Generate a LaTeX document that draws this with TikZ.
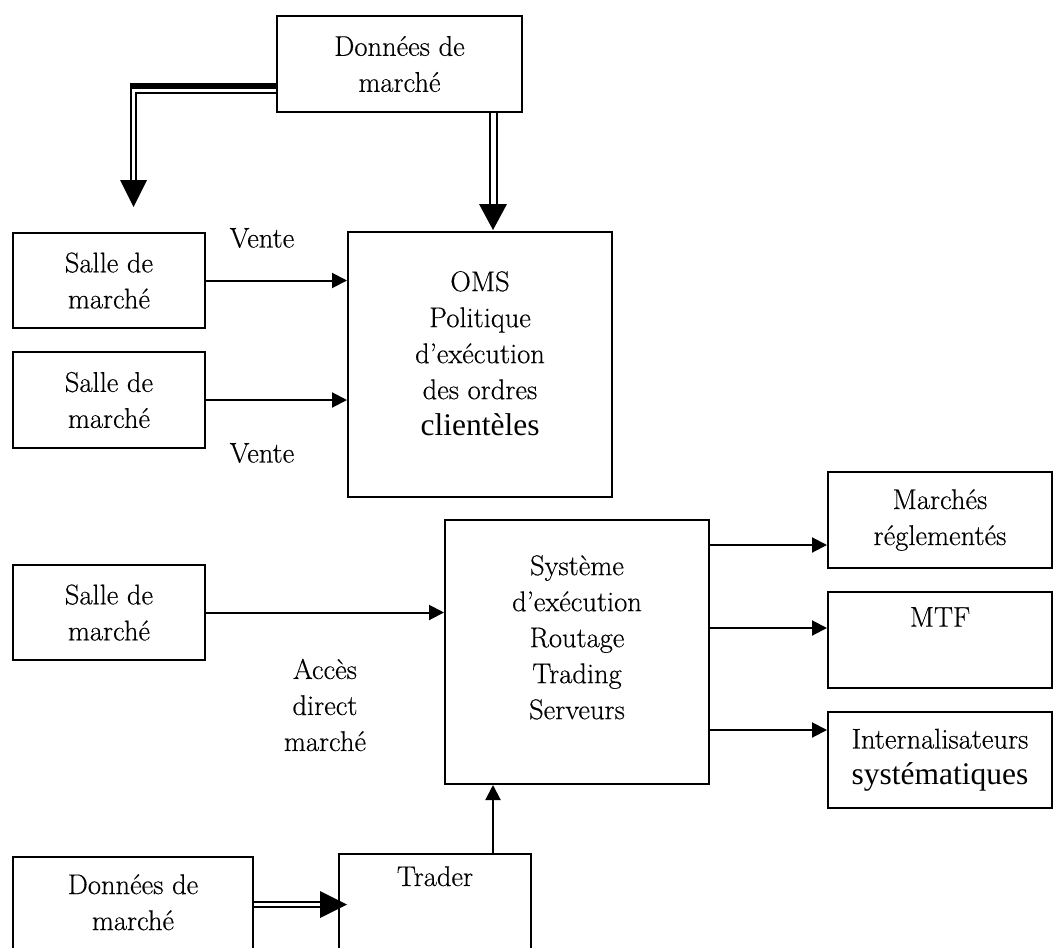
\documentclass[tikz,border=0pt]{standalone}
\usepackage{fontspec}
\setmainfont{Latin Modern Roman}[FakeBold=0.4]
\newfontfamily\timesfont{Liberation Serif}
\usetikzlibrary{arrows.meta}
\newcommand\mainsize{\fontsize{28.5}{36}\selectfont}
\newcommand\tnrsize{\timesfont\fontsize{31.5}{36}\selectfont}
\begin{document}
\begin{tikzpicture}[x=1pt,y=-1pt,
  box/.style={draw, line width=2pt, inner sep=0pt, align=center, font=\mainsize},
  txt/.style={inner sep=0pt, align=center, font=\mainsize},
  flow/.style={line width=2pt, -{Triangle[length=15pt,width=15pt]}},
  feed/.style={line width=2pt, double distance=5pt},
]
\useasboundingbox (0,0) rectangle (1056,947);

% market data source at the top
\node[box, minimum width=245pt, minimum height=96pt] (dtop) at (399.5,64) {Données de\\marché};

% trading rooms
\node[box, minimum width=192pt, minimum height=95pt] (s1) at (109,280.5) {Salle de\\marché};
\node[box, minimum width=192pt, minimum height=96pt] (s2) at (109,400) {Salle de\\marché};
\node[box, minimum width=192pt, minimum height=95pt] (s3) at (109,612.5) {Salle de\\marché};

% order management system
\node[box, minimum width=264pt, minimum height=265pt] (oms) at (480,364.5) {};
\node[txt, anchor=north] (omst) at ([yshift=-40pt]oms.north)
  {OMS\\Politique\\d’exécution\\des ordres\\{\tnrsize clientèles}};

% execution system
\node[box, minimum width=264pt, minimum height=264pt] (sys) at (577,652) {};
\node[txt, anchor=north] (syst) at ([yshift=-36pt]sys.north)
  {Système\\d’exécution\\Routage\\Trading\\Serveurs};

% execution venues
\node[box, minimum width=224pt, minimum height=96pt] (mr) at (940,520) {Marchés\\réglementés};
\node[box, minimum width=224pt, minimum height=96pt] (mtf) at (940,640) {};
\node[txt, anchor=north] (mtft) at ([yshift=-16pt]mtf.north) {MTF};
\node[box, minimum width=224pt, minimum height=96pt] (int) at (940,760)
  {Internalisateurs\\{\tnrsize systématiques}};

% bottom row, running off the lower edge
\node[box, minimum width=240pt, minimum height=123pt] (dbot) at (133,918.5) {};
\node[txt, anchor=north] (dbott) at ([yshift=-18pt]dbot.north) {Données de\\marché};
\node[box, minimum width=192pt, minimum height=126pt] (trader) at (435,917) {};
\node[txt, anchor=north] (tradert) at ([yshift=-13pt]trader.north) {Trader};

% free labels
\node[txt] (v1) at (262,238) {Vente};
\node[txt] (v2) at (262,453) {Vente};
\node[txt] (adm) at (325,705) {Accès\\direct\\marché};

% market data feeds (double lines)
\coordinate (fk) at (133.5,207);
\draw[line width=6pt] (dtop.west |- 0,86) -- (130,86);
\draw[line width=2pt] (dtop.west |- 0,93) -- (136,93) -- (136,182);
\draw[line width=2pt] (131,83) -- (131,182);
\fill ([xshift=-13.5pt,yshift=27pt]fk) -- ([xshift=13.5pt,yshift=27pt]fk) -- (fk) -- cycle;

\coordinate (ok) at (oms.north -| 493,0);
\draw[feed] (dtop.south -| ok) -- ([yshift=26pt]ok);
\fill ([xshift=-14pt,yshift=27pt]ok) -- ([xshift=14pt,yshift=27pt]ok) -- ([yshift=1pt]ok) -- cycle;

\coordinate (tk) at (trader.west |- 0,904.5);
\draw[line width=1.8pt, double distance=2.5pt] (dbot.east |- tk) -- ([xshift=-17pt]tk);
\fill ([xshift=-18pt,yshift=13.5pt]tk) -- ([xshift=-18pt,yshift=-13.5pt]tk) -- ([xshift=9pt]tk) -- cycle;

% order flows
\draw[flow] (s1.east) -- (s1.east -| oms.west);
\draw[flow] (s2.east) -- (s2.east -| oms.west);
\draw[flow] (s3.east) -- (s3.east -| sys.west);
\draw[flow] (sys.east |- 0,545) -- (mr.west |- 0,545);
\draw[flow] (sys.east |- 0,628) -- (mtf.west |- 0,628);
\draw[flow] (sys.east |- 0,730) -- (int.west |- 0,730);
\draw[flow] (trader.north -| ok) -- (sys.south -| ok);
\end{tikzpicture}
\end{document}
